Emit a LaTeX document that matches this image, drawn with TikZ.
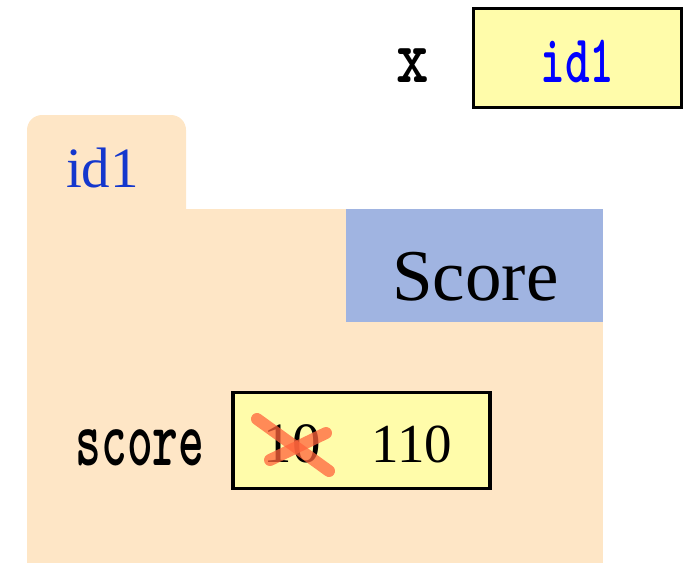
\documentclass[tikz,border=0pt]{standalone}
\usepackage{fontspec}
\setmainfont{Liberation Serif}
\usepackage{graphicx}
\definecolor{folderfill}{RGB}{254,230,198}
\definecolor{classfill}{RGB}{160,180,225}
\definecolor{cellfill}{RGB}{255,252,170}
\definecolor{idblue}{RGB}{20,55,205}
\definecolor{crossred}{RGB}{255,100,60}
% tall typewriter lettering for variable names
\newcommand\tallmono[2]{\scalebox{1}[#1]{\ttfamily\bfseries #2}}
\tikzset{
  cell/.style={draw=black, line width=3.5pt, fill=cellfill, inner sep=0pt},
  plain/.style={inner sep=0pt, anchor=base},
  strike/.style={draw=crossred, line width=12pt, line cap=round, opacity=0.75}
}
\begin{document}
\begin{tikzpicture}[x=1pt, y=-1pt]
\useasboundingbox (0,0) rectangle (685,563);
% folder: tab with rounded top corners and the body
\fill[folderfill, rounded corners=15pt] (27,115) rectangle (186,300);
\fill[folderfill] (27,209) rectangle (603,563);
% class name band
\node[fill=classfill, minimum width=257pt, minimum height=113pt, inner sep=0pt] (cls) at (474.5,265.5) {};
\node[plain] (clsname) at (475.5,300) {\fontsize{73}{80}\selectfont Score};
% tab label
\node[plain, text=idblue] (tabid) at (102.5,187) {\fontsize{57}{64}\selectfont id1};
% global variable x
\node[cell, minimum width=208pt, minimum height=99pt] (xbox) at (577.5,58) {};
\node[plain] (xname) at (412.5,82) {\fontsize{62}{70}\selectfont\tallmono{1.25}{x}};
\node[plain, text=blue] (xval) at (577.5,82) {\fontsize{47}{54}\selectfont\tallmono{1.45}{id1}};
% field score
\node[plain] (fname) at (140,465) {\fontsize{49}{56}\selectfont\tallmono{1.65}{score}};
\node[cell, minimum width=257pt, minimum height=96pt] (fbox) at (361.5,440.5) {};
\node[plain] (oldval) at (292,462) {\fontsize{57}{64}\selectfont 10};
\node[plain] (newval) at (412,462) {\fontsize{55}{62}\selectfont 110};
% crossing out the old value
\coordinate (s1a) at (257,419);
\coordinate (s1b) at (329,471);
\coordinate (s2a) at (270,460);
\coordinate (s2b) at (326,433);
\draw[strike] (s1a) -- (s1b);
\draw[strike] (s2a) -- (s2b);
\end{tikzpicture}
\end{document}
